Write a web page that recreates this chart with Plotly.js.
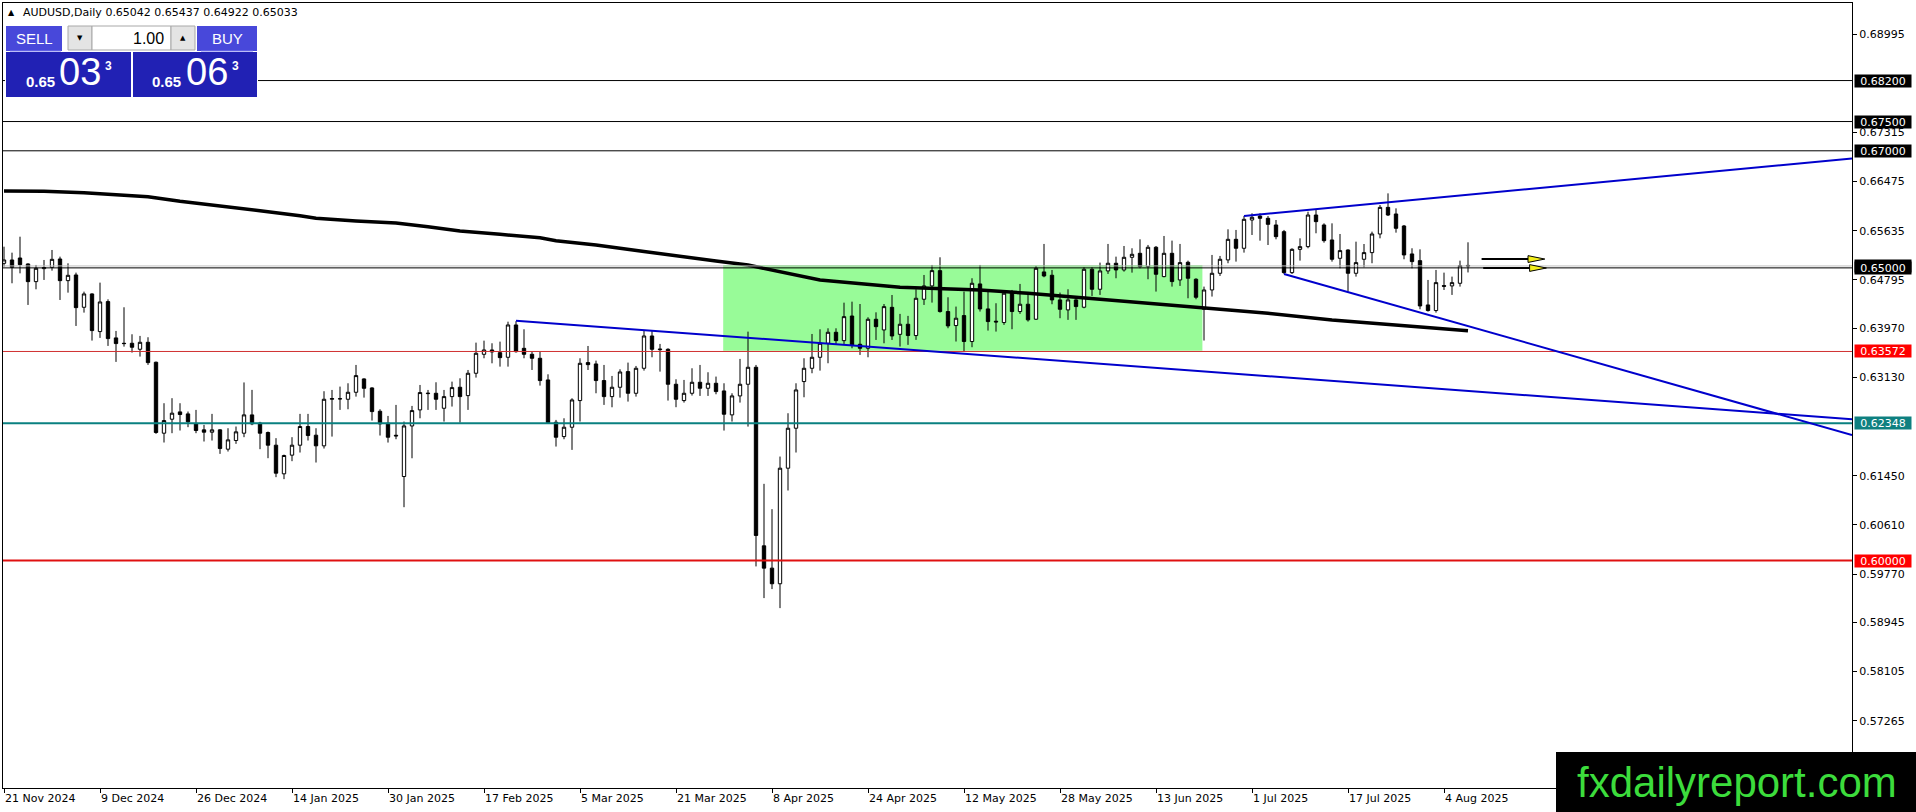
<!DOCTYPE html>
<html><head><meta charset="utf-8">
<script src="https://cdn.plot.ly/plotly-3.0.1.min.js"></script>
<style>html,body{margin:0;padding:0;background:#fff;overflow:hidden}#chart{width:1916px;height:812px}</style>
</head><body><div id="chart"></div>
<script>
// ---------- DATA ----------
const dates = [
"2024-11-21","2024-11-22","2024-11-25","2024-11-26","2024-11-27","2024-11-28","2024-11-29",
"2024-12-02","2024-12-03","2024-12-04","2024-12-05","2024-12-06","2024-12-09","2024-12-10","2024-12-11","2024-12-12","2024-12-13",
"2024-12-16","2024-12-17","2024-12-18","2024-12-19","2024-12-20","2024-12-23","2024-12-24","2024-12-26","2024-12-27","2024-12-30","2024-12-31",
"2025-01-02","2025-01-03","2025-01-06","2025-01-07","2025-01-08","2025-01-09","2025-01-10","2025-01-13","2025-01-14","2025-01-15","2025-01-16","2025-01-17",
"2025-01-20","2025-01-21","2025-01-22","2025-01-23","2025-01-24","2025-01-27","2025-01-28","2025-01-29","2025-01-30","2025-01-31",
"2025-02-03","2025-02-04","2025-02-05","2025-02-06","2025-02-07","2025-02-10","2025-02-11","2025-02-12","2025-02-13","2025-02-14",
"2025-02-17","2025-02-18","2025-02-19","2025-02-20","2025-02-21","2025-02-24","2025-02-25","2025-02-26","2025-02-27","2025-02-28",
"2025-03-03","2025-03-04","2025-03-05","2025-03-06","2025-03-07","2025-03-10","2025-03-11","2025-03-12","2025-03-13","2025-03-14",
"2025-03-17","2025-03-18","2025-03-19","2025-03-20","2025-03-21","2025-03-24","2025-03-25","2025-03-26","2025-03-27","2025-03-28","2025-03-31",
"2025-04-01","2025-04-02","2025-04-03","2025-04-04","2025-04-07","2025-04-08","2025-04-09","2025-04-10","2025-04-11",
"2025-04-14","2025-04-15","2025-04-16","2025-04-17","2025-04-18","2025-04-21","2025-04-22","2025-04-23","2025-04-24","2025-04-25",
"2025-04-28","2025-04-29","2025-04-30","2025-05-01","2025-05-02","2025-05-05","2025-05-06","2025-05-07","2025-05-08","2025-05-09",
"2025-05-12","2025-05-13","2025-05-14","2025-05-15","2025-05-16","2025-05-19","2025-05-20","2025-05-21","2025-05-22","2025-05-23",
"2025-05-26","2025-05-27","2025-05-28","2025-05-29","2025-05-30","2025-06-02","2025-06-03","2025-06-04","2025-06-05","2025-06-06",
"2025-06-09","2025-06-10","2025-06-11","2025-06-12","2025-06-13","2025-06-16","2025-06-17","2025-06-18","2025-06-19","2025-06-20",
"2025-06-23","2025-06-24","2025-06-25","2025-06-26","2025-06-27","2025-06-30","2025-07-01","2025-07-02","2025-07-03","2025-07-04",
"2025-07-07","2025-07-08","2025-07-09","2025-07-10","2025-07-11","2025-07-14","2025-07-15","2025-07-16","2025-07-17","2025-07-18",
"2025-07-21","2025-07-22","2025-07-23","2025-07-24","2025-07-25","2025-07-28","2025-07-29","2025-07-30","2025-07-31","2025-08-01",
"2025-08-04","2025-08-05","2025-08-06","2025-08-07"];

const openP = [
0.65078,0.65135,0.65169,0.65067,0.64765,0.64987,0.65010,0.65152,0.64782,0.64879,
0.64327,0.64555,0.63912,0.64424,0.63804,0.63712,0.63712,0.63610,0.63729,0.63388,
0.62176,0.62415,0.62540,0.62506,0.62336,0.62233,0.62193,0.62233,0.61903,0.62051,
0.62176,0.62489,0.62347,0.62188,0.61971,0.61482,0.61801,0.61971,0.62290,0.62142,
0.61960,0.62756,0.62761,0.62756,0.62875,0.63103,0.62949,0.62551,0.62346,0.62141,
0.61436,0.62300,0.62574,0.62852,0.62858,0.62602,0.62801,0.62961,0.62818,0.63200,
0.63524,0.63598,0.63552,0.63473,0.64025,0.63626,0.63524,0.63456,0.63086,0.62363,
0.62118,0.62278,0.62733,0.63382,0.63359,0.63075,0.62801,0.62961,0.63228,0.62858,
0.63285,0.63837,0.63615,0.63609,0.63012,0.62733,0.62858,0.63046,0.62944,0.63029,
0.62898,0.62489,0.62813,0.63012,0.63302,0.60252,0.59871,0.59604,0.61578,0.62261,
0.63058,0.63285,0.63473,0.63712,0.63900,0.63757,0.64178,0.63695,0.63627,0.64122,
0.63940,0.64326,0.63865,0.64037,0.63844,0.64464,0.64692,0.64953,0.64254,0.64015,
0.64185,0.63742,0.64726,0.64299,0.64089,0.64066,0.64578,0.64254,0.64379,0.64123,
0.64931,0.64874,0.64453,0.64282,0.64453,0.64328,0.64976,0.64635,0.64948,0.65079,
0.64965,0.65181,0.65249,0.65022,0.65352,0.64851,0.65249,0.64794,0.65096,0.64806,
0.64293,0.64623,0.64908,0.65136,0.65488,0.65335,0.65818,0.65886,0.65847,0.65733,
0.65619,0.64919,0.65317,0.65363,0.65903,0.65733,0.65477,0.65164,0.65306,0.64908,
0.65147,0.65261,0.65579,0.66034,0.65921,0.65716,0.65238,0.65124,0.64367,0.64271,
0.64697,0.64692,0.64737,0.65042];

const highP = [
0.65362,0.65260,0.65533,0.65078,0.65050,0.65135,0.65306,0.65192,0.65078,0.64919,
0.64594,0.64566,0.64748,0.64463,0.63923,0.64327,0.63866,0.63838,0.63815,0.63400,
0.62688,0.62774,0.62688,0.62546,0.62574,0.62318,0.62506,0.62244,0.62261,0.62290,
0.63043,0.62916,0.62370,0.62205,0.62091,0.61810,0.62108,0.62506,0.62506,0.62261,
0.62893,0.62915,0.62972,0.63029,0.63342,0.63114,0.62961,0.62585,0.62471,0.62659,
0.62375,0.62642,0.63000,0.62915,0.63046,0.62915,0.63057,0.63114,0.63256,0.63723,
0.63757,0.63712,0.63740,0.64081,0.64090,0.63951,0.63569,0.63569,0.63182,0.62403,
0.62431,0.62773,0.63456,0.63666,0.63416,0.63342,0.63154,0.63268,0.63382,0.63325,
0.63939,0.63928,0.63701,0.63627,0.63097,0.63086,0.63285,0.63342,0.63217,0.63143,
0.63029,0.62858,0.63445,0.63911,0.63342,0.61311,0.60878,0.61777,0.62517,0.63029,
0.63456,0.63871,0.63951,0.63968,0.63968,0.64406,0.64423,0.64383,0.64156,0.64241,
0.64383,0.64537,0.64214,0.64180,0.64635,0.64879,0.65050,0.65181,0.64498,0.64339,
0.64595,0.64823,0.65050,0.64595,0.64396,0.64612,0.64623,0.64726,0.64567,0.65033,
0.65409,0.64965,0.64578,0.64635,0.64510,0.65010,0.65010,0.65090,0.65409,0.65192,
0.65374,0.65335,0.65488,0.65392,0.65374,0.65545,0.65466,0.65409,0.65124,0.64823,
0.64680,0.65221,0.65204,0.65659,0.65648,0.65886,0.65932,0.65932,0.65886,0.65818,
0.65648,0.65335,0.65505,0.65960,0.65989,0.65761,0.65761,0.65579,0.65317,0.65448,
0.65408,0.65619,0.66074,0.66273,0.66017,0.65733,0.65335,0.65317,0.64794,0.64965,
0.64919,0.64851,0.65124,0.65437];

const lowP = [
0.65021,0.64737,0.64907,0.64367,0.64634,0.64794,0.64953,0.64452,0.64577,0.64008,
0.64236,0.63758,0.63804,0.63667,0.63394,0.63655,0.63553,0.63485,0.63343,0.62165,
0.62017,0.62176,0.62222,0.62279,0.62176,0.62034,0.62051,0.61823,0.61863,0.61994,
0.62108,0.62313,0.61903,0.61749,0.61425,0.61391,0.61698,0.61846,0.62051,0.61675,
0.61914,0.62118,0.62574,0.62585,0.62801,0.62784,0.62392,0.62136,0.62016,0.62073,
0.60912,0.61748,0.62431,0.62574,0.62574,0.62375,0.62631,0.62357,0.62574,0.63126,
0.63456,0.63370,0.63313,0.63313,0.63552,0.63456,0.63256,0.62989,0.62346,0.61948,
0.62073,0.61891,0.62375,0.63256,0.62858,0.62659,0.62619,0.62784,0.62716,0.62801,
0.63245,0.63473,0.63228,0.62733,0.62620,0.62699,0.62819,0.62813,0.62813,0.62841,
0.62221,0.62375,0.62699,0.62289,0.59900,0.59359,0.59513,0.59188,0.61197,0.61846,
0.62790,0.63200,0.63245,0.63371,0.63701,0.63701,0.63627,0.63513,0.63473,0.63769,
0.63712,0.63769,0.63656,0.63685,0.63770,0.64367,0.64407,0.64236,0.63969,0.63742,
0.63571,0.63645,0.64254,0.63929,0.63912,0.64026,0.63952,0.64214,0.64083,0.64112,
0.64840,0.64379,0.64140,0.64112,0.64112,0.64310,0.64521,0.64538,0.64897,0.64823,
0.64936,0.64919,0.64993,0.64806,0.64595,0.64840,0.64680,0.64692,0.64481,0.64464,
0.63759,0.64510,0.64862,0.65079,0.65107,0.65261,0.65562,0.65465,0.65391,0.65488,
0.64896,0.64896,0.65124,0.65335,0.65591,0.65431,0.65107,0.64993,0.64595,0.64851,
0.65010,0.65079,0.65505,0.65886,0.65602,0.65147,0.64993,0.64293,0.64253,0.64236,
0.64623,0.64538,0.64680,0.64922];

const closeP = [
0.65135,0.65010,0.65055,0.64765,0.64993,0.65004,0.65146,0.64782,0.64873,0.64321,
0.64555,0.63929,0.64418,0.63792,0.63707,0.63707,0.63644,0.63729,0.63382,0.62188,
0.62392,0.62518,0.62495,0.62370,0.62222,0.62193,0.62233,0.61914,0.62062,0.62199,
0.62489,0.62336,0.62176,0.61971,0.61493,0.61795,0.61971,0.62290,0.62136,0.61960,
0.62756,0.62767,0.62765,0.62875,0.63160,0.62943,0.62545,0.62335,0.62107,0.62130,
0.62300,0.62562,0.62870,0.62858,0.62756,0.62801,0.62955,0.62801,0.63200,0.63541,
0.63598,0.63564,0.63467,0.64025,0.63569,0.63524,0.63456,0.63075,0.62357,0.62107,
0.62278,0.62744,0.63370,0.63347,0.63075,0.62801,0.62961,0.63222,0.62858,0.63285,
0.63837,0.63609,0.63604,0.63012,0.62756,0.62858,0.63046,0.62944,0.63029,0.62887,
0.62500,0.62813,0.63012,0.63302,0.60429,0.59871,0.59604,0.61578,0.62261,0.62915,
0.63285,0.63473,0.63712,0.63900,0.63757,0.64167,0.63683,0.63627,0.64122,0.63996,
0.64338,0.63837,0.64037,0.63844,0.64481,0.64692,0.64953,0.64254,0.64009,0.64140,
0.63742,0.64737,0.64299,0.64083,0.64077,0.64567,0.64254,0.64379,0.64112,0.64993,
0.64862,0.64453,0.64293,0.64453,0.64339,0.64976,0.64635,0.64948,0.65079,0.64965,
0.65181,0.65232,0.65022,0.65352,0.64891,0.65249,0.64766,0.65090,0.64823,0.64498,
0.64623,0.64908,0.65147,0.65488,0.65335,0.65830,0.65864,0.65847,0.65744,0.65534,
0.64919,0.65317,0.65363,0.65903,0.65790,0.65465,0.65147,0.65295,0.64908,0.65090,
0.65261,0.65579,0.66034,0.65903,0.65676,0.65221,0.65107,0.64350,0.64271,0.64748,
0.64686,0.64748,0.65039,0.65033];

// moving average (at these bars)
const maDates = ["2024-11-21","2024-11-28","2024-12-05","2024-12-12","2024-12-17","2024-12-23","2024-12-31","2025-01-08",
"2025-01-15","2025-01-17","2025-01-24","2025-01-31","2025-02-06","2025-02-12","2025-02-19","2025-02-26","2025-02-28",
"2025-03-07","2025-03-17","2025-03-21","2025-03-28","2025-04-03","2025-04-07","2025-04-16","2025-04-30","2025-05-05",
"2025-05-14","2025-05-22","2025-06-02","2025-06-12","2025-06-24","2025-07-03","2025-07-15","2025-07-28","2025-08-07"];
const maValues = [0.66313,0.66308,0.66284,0.66250,0.66216,0.66137,0.66062,0.65977,
0.65891,0.65847,0.65801,0.65767,0.65703,0.65630,0.65573,0.65516,0.65464,
0.65391,0.65280,0.65203,0.65117,0.65049,0.64993,0.64793,0.64668,0.64651,
0.64622,0.64566,0.64485,0.64383,0.64292,0.64224,0.64110,0.64007,0.63927];

const tickDates = ["2024-11-21","2024-12-09","2024-12-26","2025-01-14","2025-01-30","2025-02-17","2025-03-05","2025-03-21",
"2025-04-08","2025-04-24","2025-05-12","2025-05-28","2025-06-13","2025-07-01","2025-07-17","2025-08-04"];
const tickLabels = ["21 Nov 2024","9 Dec 2024","26 Dec 2024","14 Jan 2025","30 Jan 2025","17 Feb 2025","5 Mar 2025","21 Mar 2025",
"8 Apr 2025","24 Apr 2025","12 May 2025","28 May 2025","13 Jun 2025","1 Jul 2025","17 Jul 2025","4 Aug 2025"];
const priceTicks = [0.68995,0.67315,0.66475,0.65635,0.64795,0.63970,0.63130,0.61450,0.60610,0.59770,0.58945,0.58105,0.57265];

// horizontal levels and their tags
const levelPrices = [0.68200,0.67500,0.67000,0.65033,0.65000,0.63572,0.62348,0.60000];
const levelColors = ["#000000","#000000","#000000","#c0c0c0","#000000","#d03030","#0a8080","#e01010"];
const levelWidths = [1,1,1,1,1,1,2,2];
const tagColors = ["#000000","#000000","#000000","#000000","#000000","#ff0000","#0e8080","#ff0000"];

// drawn objects (bar index, price)
const trendStartBar = [64, 155, 160];
const trendStartPrice = [0.64098, 0.65886, 0.64896];
const trendEndBar = [231, 231, 231];
const trendEndPrice = [0.62413, 0.66870, 0.62145];
const zoneBars = [89.9, 149.8];
const zonePrices = [0.63585, 0.65050];
const arrowPrices = [0.65151, 0.64998];
const arrowStartBar = [184.7, 184.9];
const arrowHeadBar = [190.5, 190.7];
const arrowTipBar = [192.6, 192.8];

const header = "AUDUSD,Daily 0.65042 0.65437 0.64922 0.65033";

// ---------- BUILD ----------
const xi = dates.map((d,i)=>i);
const W=1916,H=812,ML=3,MR=64,MT=3,MB=24;
const PW=W-ML-MR, PH=H-MT-MB;
const px = v => (v-ML)/PW;
const py = v => 1-(v-MT)/PH;

const traces = [
 {type:'candlestick', x:xi, open:openP, high:highP, low:lowP, close:closeP,
  increasing:{line:{color:'#000',width:1},fillcolor:'#ffffff'},
  decreasing:{line:{color:'#000',width:1},fillcolor:'#000000'},
  whiskerwidth:0, hoverinfo:'skip', showlegend:false},
 {type:'scatter', mode:'lines', x:maDates.map(d=>dates.indexOf(d)), y:maValues,
  line:{color:'#000',width:3.5}, hoverinfo:'skip', showlegend:false}
];

const shapes = [];
shapes.push({type:'rect',xref:'x',yref:'y',x0:zoneBars[0],x1:zoneBars[1],y0:zonePrices[0],y1:zonePrices[1],
  fillcolor:'#98fb98',line:{width:0},layer:'below'});
levelPrices.forEach((p,i)=>shapes.push({type:'line',xref:'paper',yref:'y',x0:0,x1:1,y0:p,y1:p,
  line:{color:levelColors[i],width:levelWidths[i]},layer:'above'}));
trendStartBar.forEach((b,i)=>shapes.push({type:'line',xref:'x',yref:'y',x0:b,y0:trendStartPrice[i],x1:trendEndBar[i],y1:trendEndPrice[i],
  line:{color:'#0000cc',width:2}}));
arrowPrices.forEach((p,i)=>{
  shapes.push({type:'line',xref:'x',yref:'y',x0:arrowStartBar[i],x1:arrowHeadBar[i],y0:p,y1:p,line:{color:'#000',width:2}});
  const h=0.00058;
  shapes.push({type:'path',xref:'x',yref:'y',
    path:`M ${arrowHeadBar[i]},${p+h} L ${arrowTipBar[i]},${p} L ${arrowHeadBar[i]},${p-h} Z`,
    fillcolor:'#f2ee1c',line:{color:'#000',width:1}});
});
function rectPx(x0,y0,x1,y1,fill,border){
  return {type:'rect',xref:'paper',yref:'paper',x0:px(x0),x1:px(x1),y0:py(y1),y1:py(y0),
    fillcolor:fill,line:{color:border||fill,width:border?1:0},layer:'above'};
}
// trade panel
shapes.push(rectPx(5,25,258,98,'#ffffff'));
shapes.push(rectPx(6,26,62,51,'#4848da'));
shapes.push(rectPx(10,50.5,61,51.5,'#7a7aee'));
shapes.push(rectPx(68,26,92,50,'#e4e4e4','#a8a8a8'));
shapes.push(rectPx(92,26,171,50,'#ffffff','#a8a8a8'));
shapes.push(rectPx(171,26,195,50,'#e4e4e4','#a8a8a8'));
shapes.push(rectPx(197,26,257,51,'#4848da'));
shapes.push(rectPx(201,50.5,253,51.5,'#7a7aee'));
shapes.push(rectPx(6,52,131,97,'#2121b4'));
shapes.push(rectPx(133,52,257,97,'#2121b4'));
// watermark box
shapes.push(rectPx(1556,752,1916,812,'#000000'));

const ann = [];
function textPx(x,y,text,size,color,family,xanchor){
  ann.push({xref:'paper',yref:'paper',x:px(x),y:py(y),text:text,showarrow:false,
    xanchor:xanchor||'center',yanchor:'middle',font:{size:size,color:color,family:family||'DejaVu Sans'}});
}
levelPrices.forEach((p,i)=>ann.push({xref:'paper',yref:'y',x:1,y:p,xanchor:'left',yanchor:'middle',xshift:2,
  text:p.toFixed(5),showarrow:false,bgcolor:tagColors[i],width:54,height:10,borderpad:1,
  font:{family:'DejaVu Sans',size:11,color:'#ffffff'}}));
const narrow = 'Liberation Sans Narrow, Liberation Sans, Arial, sans-serif';
textPx(11,12.5,'▲',8,'#000');
textPx(21,13,header,11,'#000','DejaVu Sans','left');
textPx(34,38.5,'SELL',15,'#fff',narrow);
textPx(80,38,'▼',7,'#000');
textPx(166,38.5,'1.00',16,'#000',narrow,'right');
textPx(183,38,'▲',7,'#000');
textPx(227,38.5,'BUY',15,'#fff',narrow);
textPx(40,82,'<b>0.65</b>',15,'#fff','Liberation Sans, Arial');
textPx(80,72,'03',38,'#fff',narrow);
textPx(108.5,66,'<b>3</b>',12,'#fff','Liberation Sans, Arial');
textPx(166,82,'<b>0.65</b>',15,'#fff','Liberation Sans, Arial');
textPx(207,72,'06',38,'#fff',narrow);
textPx(235.5,66,'<b>3</b>',12,'#fff','Liberation Sans, Arial');
textPx(1737,782,'fxdailyreport.com',42,'#3cdc3c','Liberation Sans, Arial, sans-serif');

const layout = {
  width:W,height:H,margin:{l:ML,r:MR,t:MT,b:MB,pad:0},
  paper_bgcolor:'#ffffff',plot_bgcolor:'#ffffff',showlegend:false,boxgap:0.4,
  xaxis:{type:'linear',range:[-0.125,231],tickvals:tickDates.map(d=>dates.indexOf(d)),ticktext:tickLabels,
    ticks:'outside',ticklen:4,tickcolor:'#000',showgrid:false,zeroline:false,showline:true,mirror:true,
    linecolor:'#000',linewidth:1,ticklabelposition:'outside right',tickangle:0,
    tickfont:{family:'DejaVu Sans',size:11,color:'#000'},rangeslider:{visible:false},fixedrange:true},
  yaxis:{side:'right',range:[0.56115,0.69525],tickvals:priceTicks,ticktext:priceTicks.map(v=>v.toFixed(5)),
    ticks:'outside',ticklen:4,tickcolor:'#000',showgrid:false,zeroline:false,showline:true,mirror:true,
    linecolor:'#000',linewidth:1,tickfont:{family:'DejaVu Sans',size:11,color:'#000'},fixedrange:true},
  shapes:shapes,annotations:ann
};
Plotly.newPlot('chart',traces,layout,{staticPlot:true,displayModeBar:false});
</script></body></html>
